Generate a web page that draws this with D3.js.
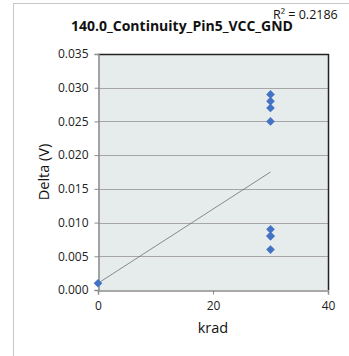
<!DOCTYPE html>
<html><head><meta charset="utf-8">
<script src="https://cdn.jsdelivr.net/npm/d3@7"></script>
<style>body{margin:0;background:#fff}svg{display:block}text{font-family:"Open Sans","Liberation Sans",sans-serif}</style>
</head><body>
<script>
const title = "140.0_Continuity_Pin5_VCC_GND";
const xLabel = "krad";
const yLabel = "Delta (V)";
const rSquaredLabel = "R\u00b2 = 0.2186";
const xVals = [0, 30, 30, 30, 30, 30, 30, 30, 30];
const yVals = [0.001, 0.029, 0.028, 0.027, 0.025, 0.009, 0.008, 0.008, 0.006];
const xTicks = [0, 20, 40];
const yTicks = [0, 0.005, 0.010, 0.015, 0.020, 0.025, 0.030, 0.035];

const W = 349, H = 356;
const svg = d3.select("body").append("svg").attr("width", W).attr("height", H);
svg.append("rect").attr("x", 13.5).attr("y", 3.5).attr("width", 400).attr("height", 400)
  .attr("fill", "#fff").attr("stroke", "#c8c8c8");

const L = 98, R = 328, T = 54, B = 290;
const x = d3.scaleLinear().domain([0, 40]).range([L, R]);
const y = d3.scaleLinear().domain([0, 0.035]).range([B, T]);

svg.append("rect").attr("x", L).attr("y", T).attr("width", R - L).attr("height", B - T).attr("fill", "#e6ecec");

svg.append("g").selectAll("line").data(yTicks.slice(1, -1)).join("line")
  .attr("x1", L).attr("x2", R).attr("y1", d => Math.round(y(d)) + 0.5).attr("y2", d => Math.round(y(d)) + 0.5)
  .attr("stroke", "#a6a6a6").attr("stroke-width", 1);

// borders
svg.append("line").attr("x1", L).attr("x2", R + 1).attr("y1", T + 0.5).attr("y2", T + 0.5).attr("stroke", "#222").attr("stroke-width", 1.5);
svg.append("line").attr("x1", R + 0.5).attr("x2", R + 0.5).attr("y1", T).attr("y2", B).attr("stroke", "#222").attr("stroke-width", 1.5);

const yAxis = svg.append("g").attr("transform", `translate(${L + 0.5},0)`)
  .call(d3.axisLeft(y).tickValues(yTicks).tickFormat(d3.format(".3f")).tickSize(4).tickPadding(6));
const xAxis = svg.append("g").attr("transform", `translate(0,${B + 0.5})`)
  .call(d3.axisBottom(x).tickValues(xTicks).tickFormat(d3.format("d")).tickSize(4).tickPadding(7));
[yAxis, xAxis].forEach(a => {
  a.select(".domain").attr("stroke", "#8c8c8c").attr("stroke-width", 1.5);
  a.selectAll(".tick line").attr("stroke", "#8c8c8c");
  a.selectAll("text").attr("font-size", 12).attr("fill", "#222").attr("font-family", "Open Sans, Liberation Sans, sans-serif");
});

// regression
const n = xVals.length;
const mx = d3.mean(xVals), my = d3.mean(yVals);
let sxy = 0, sxx = 0;
for (let i = 0; i < n; i++) { sxy += (xVals[i] - mx) * (yVals[i] - my); sxx += (xVals[i] - mx) ** 2; }
const slope = sxy / sxx, icpt = my - slope * mx;
const xr = d3.extent(xVals);
svg.append("line").attr("x1", x(xr[0])).attr("y1", y(icpt + slope * xr[0]))
  .attr("x2", x(xr[1])).attr("y2", y(icpt + slope * xr[1]))
  .attr("stroke", "#707070").attr("stroke-width", 0.8);

svg.append("g").selectAll("path").data(d3.range(n)).join("path")
  .attr("d", d3.symbol(d3.symbolDiamond2, 48))
  .attr("transform", i => `translate(${x(xVals[i])},${y(yVals[i])})`)
  .attr("fill", "#4472c4");

svg.append("text").attr("x", 182).attr("y", 31).attr("text-anchor", "middle")
  .attr("font-size", 14).attr("font-weight", "bold").attr("fill", "#111").text(title);
svg.append("text").attr("x", 273).attr("y", 19).attr("font-size", 12.5).attr("fill", "#111").text(rSquaredLabel);
svg.append("text").attr("transform", `translate(49,${(T + B) / 2}) rotate(-90)`).attr("text-anchor", "middle")
  .attr("font-size", 14.5).attr("fill", "#111").text(yLabel);
svg.append("text").attr("x", (L + R) / 2).attr("y", 333).attr("text-anchor", "middle")
  .attr("font-size", 14.5).attr("fill", "#111").text(xLabel);
</script>
</body></html>
